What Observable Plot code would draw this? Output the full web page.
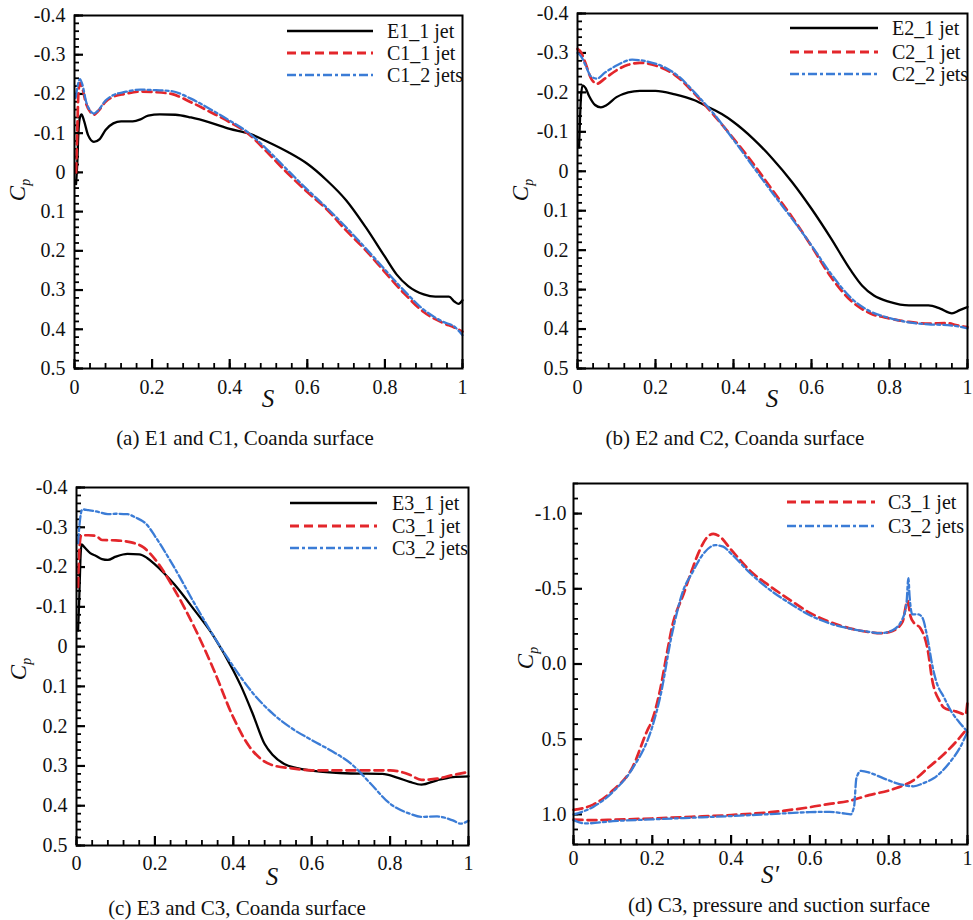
<!DOCTYPE html>
<html><head><meta charset="utf-8">
<script src="https://cdn.jsdelivr.net/npm/d3@7"></script>
<script src="https://cdn.jsdelivr.net/npm/@observablehq/plot@0.6"></script>
<style>
body{margin:0;background:#fff;}
#root{position:relative;width:973px;height:920px;font-family:'Liberation Serif','Times New Roman',serif;overflow:hidden;}
.panel{position:absolute;}
.cap{position:absolute;width:440px;text-align:center;font-size:21px;line-height:24px;white-space:nowrap;color:#111;}
</style></head><body><div id="root"></div>
<script>
// ---------- tick values ----------
const xTicks = [0, 0.2, 0.4, 0.6, 0.8, 1];
const yTicksCoanda = [-0.4, -0.3, -0.2, -0.1, 0, 0.1, 0.2, 0.3, 0.4, 0.5];
const yTicksD = [-1.0, -0.5, 0.0, 0.5, 1.0];

// ---------- (a) E1 and C1 : [S, Cp] ----------
const E1_1jet = [[0.004,0.03],[0.007,-0.02],[0.01,-0.1],[0.014,-0.14],[0.018,-0.148],[0.025,-0.13],[0.035,-0.095],[0.05,-0.078],[0.065,-0.085],[0.08,-0.108],[0.1,-0.125],[0.12,-0.13],[0.15,-0.13],[0.17,-0.135],[0.19,-0.145],[0.22,-0.148],[0.26,-0.147],[0.3,-0.14],[0.35,-0.127],[0.4,-0.111],[0.45,-0.099],[0.5,-0.077],[0.55,-0.052],[0.6,-0.022],[0.65,0.02],[0.7,0.071],[0.75,0.139],[0.8,0.215],[0.83,0.26],[0.86,0.29],[0.9,0.311],[0.93,0.317],[0.965,0.317],[0.98,0.33],[0.99,0.335],[1.0,0.326]];
const C1_1jet = [[0.004,0.0],[0.007,-0.1],[0.01,-0.2],[0.014,-0.228],[0.02,-0.215],[0.03,-0.175],[0.04,-0.155],[0.05,-0.147],[0.06,-0.155],[0.08,-0.18],[0.1,-0.193],[0.13,-0.2],[0.17,-0.206],[0.2,-0.205],[0.25,-0.2],[0.3,-0.179],[0.35,-0.154],[0.4,-0.128],[0.45,-0.097],[0.5,-0.048],[0.55,0.003],[0.6,0.05],[0.65,0.094],[0.7,0.148],[0.75,0.198],[0.8,0.254],[0.85,0.309],[0.9,0.356],[0.95,0.384],[0.98,0.396],[1.0,0.406]];
const C1_2jets = [[0.003,-0.19],[0.008,-0.22],[0.014,-0.238],[0.02,-0.225],[0.03,-0.18],[0.04,-0.158],[0.05,-0.15],[0.06,-0.157],[0.08,-0.183],[0.1,-0.197],[0.13,-0.205],[0.17,-0.211],[0.2,-0.21],[0.25,-0.207],[0.3,-0.188],[0.35,-0.161],[0.4,-0.132],[0.45,-0.1],[0.5,-0.055],[0.55,-0.005],[0.6,0.044],[0.65,0.09],[0.7,0.14],[0.75,0.193],[0.8,0.248],[0.85,0.302],[0.9,0.35],[0.95,0.381],[0.98,0.394],[1.0,0.415]];

// ---------- (b) E2 and C2 ----------
const E2_1jet = [[0.004,-0.06],[0.006,-0.12],[0.009,-0.19],[0.013,-0.218],[0.02,-0.212],[0.03,-0.19],[0.045,-0.168],[0.06,-0.162],[0.075,-0.168],[0.1,-0.188],[0.13,-0.2],[0.16,-0.204],[0.2,-0.204],[0.25,-0.195],[0.3,-0.18],[0.335,-0.163],[0.37,-0.145],[0.4,-0.125],[0.45,-0.083],[0.5,-0.032],[0.55,0.027],[0.6,0.095],[0.65,0.17],[0.7,0.25],[0.73,0.29],[0.76,0.315],[0.8,0.331],[0.85,0.34],[0.9,0.34],[0.93,0.348],[0.96,0.36],[0.98,0.352],[1.0,0.344]];
const C2_1jet = [[0.0,-0.31],[0.01,-0.3],[0.02,-0.275],[0.035,-0.235],[0.05,-0.222],[0.07,-0.235],[0.1,-0.256],[0.13,-0.27],[0.16,-0.275],[0.2,-0.268],[0.25,-0.244],[0.3,-0.197],[0.35,-0.142],[0.4,-0.083],[0.45,-0.02],[0.5,0.048],[0.55,0.116],[0.6,0.19],[0.65,0.268],[0.7,0.327],[0.75,0.36],[0.8,0.373],[0.85,0.382],[0.9,0.386],[0.95,0.385],[0.97,0.39],[1.0,0.395]];
const C2_2jets = [[0.0,-0.3],[0.01,-0.29],[0.02,-0.27],[0.035,-0.24],[0.05,-0.235],[0.07,-0.25],[0.1,-0.268],[0.14,-0.283],[0.18,-0.278],[0.22,-0.265],[0.26,-0.24],[0.3,-0.2],[0.35,-0.145],[0.4,-0.08],[0.45,-0.012],[0.5,0.055],[0.55,0.12],[0.6,0.188],[0.65,0.26],[0.7,0.32],[0.75,0.355],[0.8,0.372],[0.85,0.383],[0.9,0.388],[0.95,0.39],[1.0,0.398]];

// ---------- (c) E3 and C3 ----------
const E3_1jet = [[0.004,-0.04],[0.007,-0.12],[0.01,-0.22],[0.013,-0.257],[0.02,-0.25],[0.035,-0.235],[0.05,-0.228],[0.065,-0.22],[0.08,-0.218],[0.1,-0.226],[0.13,-0.233],[0.16,-0.232],[0.18,-0.223],[0.2,-0.207],[0.25,-0.156],[0.3,-0.093],[0.35,-0.026],[0.4,0.06],[0.42,0.1],[0.45,0.17],[0.48,0.245],[0.5,0.272],[0.53,0.295],[0.56,0.305],[0.6,0.312],[0.7,0.319],[0.78,0.32],[0.82,0.33],[0.85,0.34],[0.88,0.347],[0.92,0.336],[0.96,0.328],[1.0,0.326]];
const C3_1jet = [[0.004,-0.15],[0.007,-0.24],[0.012,-0.28],[0.03,-0.28],[0.05,-0.278],[0.065,-0.268],[0.1,-0.267],[0.14,-0.262],[0.17,-0.25],[0.2,-0.22],[0.25,-0.143],[0.3,-0.05],[0.35,0.058],[0.4,0.178],[0.44,0.25],[0.47,0.282],[0.5,0.298],[0.55,0.306],[0.6,0.311],[0.8,0.311],[0.85,0.322],[0.88,0.335],[0.92,0.332],[0.96,0.323],[1.0,0.315]];
const C3_2jets = [[0.004,-0.26],[0.008,-0.31],[0.015,-0.345],[0.03,-0.343],[0.05,-0.34],[0.08,-0.333],[0.1,-0.334],[0.13,-0.333],[0.15,-0.325],[0.18,-0.306],[0.2,-0.278],[0.25,-0.198],[0.3,-0.11],[0.35,-0.026],[0.4,0.05],[0.45,0.117],[0.5,0.168],[0.55,0.206],[0.6,0.235],[0.65,0.262],[0.7,0.294],[0.75,0.344],[0.8,0.395],[0.85,0.42],[0.88,0.428],[0.92,0.427],[0.96,0.437],[0.98,0.445],[1.0,0.438]];

// ---------- (d) C3, suction (upper) and pressure (lower) surfaces ----------
const C3_1jet_suction = [[0,0.97],[0.05,0.935],[0.1,0.84],[0.15,0.685],[0.186,0.45],[0.2,0.37],[0.22,0.17],[0.237,-0.07],[0.25,-0.245],[0.28,-0.47],[0.3,-0.62],[0.32,-0.755],[0.34,-0.845],[0.355,-0.865],[0.37,-0.85],[0.4,-0.76],[0.45,-0.615],[0.5,-0.515],[0.55,-0.425],[0.6,-0.34],[0.65,-0.28],[0.7,-0.238],[0.75,-0.212],[0.78,-0.205],[0.81,-0.22],[0.835,-0.28],[0.848,-0.42],[0.855,-0.32],[0.865,-0.27],[0.88,-0.24],[0.9,-0.08],[0.91,0.1],[0.93,0.25],[0.94,0.29],[0.97,0.315],[0.995,0.335],[1.0,0.25]];
const C3_1jet_pressure = [[0,1.035],[0.05,1.038],[0.1,1.035],[0.2,1.027],[0.3,1.016],[0.4,1.004],[0.5,0.985],[0.6,0.952],[0.65,0.93],[0.7,0.91],[0.75,0.872],[0.81,0.833],[0.87,0.76],[0.9,0.69],[0.94,0.6],[0.97,0.52],[1.0,0.427]];
const C3_2jets_suction = [[0,1.0],[0.05,0.95],[0.1,0.85],[0.15,0.694],[0.2,0.417],[0.22,0.22],[0.25,-0.2],[0.28,-0.5],[0.3,-0.6],[0.33,-0.734],[0.36,-0.79],[0.38,-0.78],[0.4,-0.734],[0.45,-0.6],[0.5,-0.49],[0.55,-0.402],[0.6,-0.324],[0.65,-0.27],[0.7,-0.236],[0.75,-0.214],[0.78,-0.205],[0.81,-0.225],[0.835,-0.3],[0.845,-0.4],[0.85,-0.57],[0.853,-0.45],[0.86,-0.33],[0.875,-0.33],[0.885,-0.31],[0.9,-0.15],[0.91,0.0],[0.92,0.11],[0.94,0.22],[0.96,0.32],[0.98,0.39],[1.0,0.45]];
const C3_2jets_pressure = [[0,1.038],[0.03,1.06],[0.1,1.045],[0.2,1.033],[0.3,1.022],[0.4,1.011],[0.5,0.998],[0.6,0.985],[0.65,0.983],[0.69,0.995],[0.703,1.0],[0.712,0.95],[0.718,0.76],[0.73,0.71],[0.754,0.725],[0.787,0.76],[0.83,0.8],[0.863,0.813],[0.89,0.79],[0.914,0.76],[0.957,0.647],[0.98,0.56],[1.0,0.45]];

// ---------- styles ----------
const sty = {
  exp: {stroke:"#000000", width:2.3, dash:null},
  one: {stroke:"#e3262b", width:2.7, dash:"9,5"},
  two: {stroke:"#3b7cd6", width:2.3, dash:"9,3,3,3"}
};

const fmtCoanda = d => String(d);
const fmtD = d => d.toFixed(1);
const xFmt = d => String(d);

const panels = [
  {ox:0, oy:0, w:486, h:460, f:{l:74,r:462,t:15,b:368}, yDomain:[-0.4,0.5], yTicks:yTicksCoanda, yMinorStep:0.02, yFmt:fmtCoanda, xPad:11, yPad:9,
   series:[{d:[E1_1jet], s:sty.exp, name:"E1_1 jet"},{d:[C1_1jet], s:sty.one, name:"C1_1 jet"},{d:[C1_2jets], s:sty.two, name:"C1_2 jets"}],
   cp:{x:25,y:190}, sl:{y:407, t:"S"}, leg:{x1:287,x2:373,tx:387,rows:[31,53,75]}, cap:{x:245,y:438,t:"(a) E1 and C1, Coanda surface"}},
  {ox:486, oy:0, w:487, h:460, f:{l:577,r:967,t:13,b:368}, yDomain:[-0.4,0.5], yTicks:yTicksCoanda, yMinorStep:0.02, yFmt:fmtCoanda, xPad:11, yPad:9,
   series:[{d:[E2_1jet], s:sty.exp, name:"E2_1 jet"},{d:[C2_1jet], s:sty.one, name:"C2_1 jet"},{d:[C2_2jets], s:sty.two, name:"C2_2 jets"}],
   cp:{x:528,y:190}, sl:{y:407, t:"S"}, leg:{x1:790,x2:878,tx:892,rows:[28,52,74]}, cap:{x:735,y:438,t:"(b) E2 and C2, Coanda surface"}},
  {ox:0, oy:460, w:486, h:460, f:{l:76,r:468,t:487,b:845}, yDomain:[-0.4,0.5], yTicks:yTicksCoanda, yMinorStep:0.02, yFmt:fmtCoanda, xPad:10, yPad:9,
   series:[{d:[E3_1jet], s:sty.exp, name:"E3_1 jet"},{d:[C3_1jet], s:sty.one, name:"C3_1 jet"},{d:[C3_2jets], s:sty.two, name:"C3_2 jets"}],
   cp:{x:26,y:669}, sl:{y:885, t:"S"}, leg:{x1:290,x2:377,tx:392,rows:[503,526,548]}, cap:{x:237,y:908,t:"(c) E3 and C3, Coanda surface"}},
  {ox:486, oy:460, w:487, h:460, f:{l:573,r:967,t:483,b:844}, yDomain:[-1.2,1.2], yTicks:yTicksD, yMinorStep:0.1, yFmt:fmtD, xPad:6, yPad:7,
   series:[{d:[C3_1jet_suction, C3_1jet_pressure], s:sty.one, name:"C3_1 jet"},{d:[C3_2jets_suction, C3_2jets_pressure], s:sty.two, name:"C3_2 jets"}],
   cp:{x:533,y:658}, sl:{y:883, t:"S\u2032"}, leg:{x1:787,x2:875,tx:888,rows:[502,526]}, cap:{x:779,y:905,t:"(d) C3, pressure and suction surface"}}
];

const root = document.getElementById("root");
const xMinor = d3.range(0, 1.0001, 0.04);
const MAJOR = 9, MINOR = 5; // inward tick lengths in px

for (const p of panels) {
  const [y0, y1] = p.yDomain;
  const yMinor = d3.range(y0, y1 + 1e-6, p.yMinorStep);
  const fw = p.f.r - p.f.l, fh = p.f.b - p.f.t;
  const marks = [
    // inward ticks: Plot tick marks inset so that only a short stub at the frame edge remains
    Plot.tickY(yMinor, {y: d => d, insetRight: fw - MINOR, stroke: "black", strokeWidth: 1.8}),
    Plot.tickY(p.yTicks, {y: d => d, insetRight: fw - MAJOR, stroke: "black", strokeWidth: 2.2}),
    Plot.tickX(xMinor, {x: d => d, insetTop: fh - MINOR, stroke: "black", strokeWidth: 1.8}),
    Plot.tickX(xTicks, {x: d => d, insetTop: fh - MAJOR, stroke: "black", strokeWidth: 2.2}),
    Plot.axisY({ticks: p.yTicks, tickSize: 0, tickPadding: p.yPad, tickFormat: p.yFmt, label: null}),
    Plot.axisX({ticks: xTicks, tickSize: 0, tickPadding: p.xPad, tickFormat: xFmt, label: null})
  ];
  for (const ser of p.series) {
    for (const arr of ser.d) {
      marks.push(Plot.line(arr.map(([s, cp]) => ({s, cp})), {
        x: "s", y: "cp", stroke: ser.s.stroke, strokeWidth: ser.s.width,
        strokeDasharray: ser.s.dash || undefined, curve: "monotone-x"
      }));
    }
  }
  marks.push(Plot.frame({stroke: "#000", strokeWidth: 2}));
  const svg = Plot.plot({
    width: p.w, height: p.h,
    marginLeft: p.f.l - p.ox, marginRight: p.ox + p.w - p.f.r,
    marginTop: p.f.t - p.oy, marginBottom: p.oy + p.h - p.f.b,
    x: {domain: [0, 1]},
    y: {domain: p.yDomain, reverse: true},
    style: {fontFamily: "'Liberation Serif','Times New Roman',serif", fontSize: "20px", color: "#111", background: "transparent", overflow: "visible"},
    marks
  });
  const div = document.createElement("div");
  div.className = "panel";
  div.style.left = p.ox + "px"; div.style.top = p.oy + "px";
  div.style.width = p.w + "px"; div.style.height = p.h + "px";
  div.appendChild(svg);
  root.appendChild(div);

  const g = d3.select(svg).append("g").attr("font-family", "'Liberation Serif','Times New Roman',serif");
  // Cp label
  const t = g.append("text")
    .attr("transform", `translate(${p.cp.x - p.ox},${p.cp.y - p.oy}) rotate(-90)`)
    .attr("text-anchor", "middle").attr("fill", "#111").attr("font-style", "italic");
  t.append("tspan").attr("font-size", 23).text("C");
  t.append("tspan").attr("font-size", 14).attr("dy", 5).text("p");
  // S label
  g.append("text")
    .attr("x", (p.f.l + p.f.r) / 2 - p.ox).attr("y", p.sl.y - p.oy)
    .attr("text-anchor", "middle").attr("font-style", "italic").attr("font-size", 25).attr("fill", "#111")
    .text(p.sl.t);
  // legend
  p.series.forEach((ser, i) => {
    const y = p.leg.rows[i] - p.oy;
    const ln = g.append("line")
      .attr("x1", p.leg.x1 - p.ox).attr("x2", p.leg.x2 - p.ox).attr("y1", y).attr("y2", y)
      .attr("stroke", ser.s.stroke).attr("stroke-width", ser.s.width + 0.4);
    if (ser.s.dash) ln.attr("stroke-dasharray", ser.s.dash);
    g.append("text").attr("x", p.leg.tx - p.ox).attr("y", y).attr("dy", "0.35em")
      .attr("text-anchor", "start")
      .attr("font-size", 20).attr("fill", "#111").text(ser.name);
  });
  // caption
  const cap = document.createElement("div");
  cap.className = "cap";
  cap.style.left = (p.cap.x - 220) + "px";
  cap.style.top = (p.cap.y - 12) + "px";
  cap.textContent = p.cap.t;
  root.appendChild(cap);
}
</script></body></html>
